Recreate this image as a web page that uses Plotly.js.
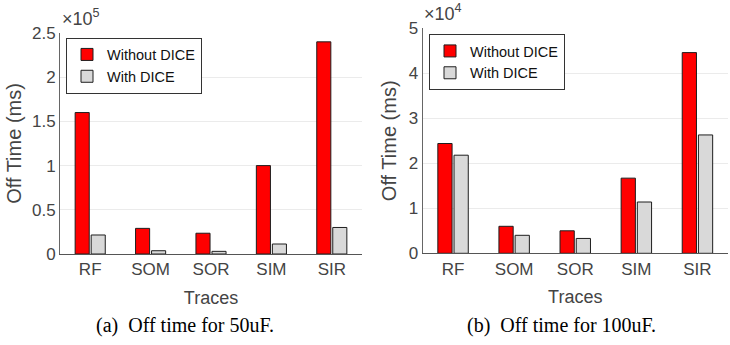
<!DOCTYPE html>
<html>
<head>
<meta charset="utf-8">
<script src="https://cdn.plot.ly/plotly-3.0.1.min.js"></script>
<style>html,body{margin:0;padding:0;background:#fff;}#chart{width:730px;height:345px;}</style>
</head>
<body>
<div id="chart"></div>
<script>
// Categories (traces)
const categories = ["RF", "SOM", "SOR", "SIM", "SIR"];
// (a) Off time for 50uF, in ms
const without50 = [160000, 29000, 23500, 100000, 240000];
const with50 = [21500, 3700, 3000, 11300, 30000];
// (b) Off time for 100uF, in ms
const without100 = [24400, 6000, 5000, 16700, 44600];
const with100 = [21800, 4000, 3300, 11400, 26300];
// Tick labels
const yTicks50 = [0, 50000, 100000, 150000, 200000, 250000];
const yTickText50 = ["0", "0.5", "1", "1.5", "2", "2.5"];
const yTicks100 = [0, 10000, 20000, 30000, 40000, 50000];
const yTickText100 = ["0", "1", "2", "3", "4", "5"];
const seriesNames = ["Without DICE", "With DICE"];

const RED = "#ff0000", GRAY = "#d9d9d9", EDGE = "#1e1e1e";
const SANS = "Liberation Sans, Arial, sans-serif";
const tickFont = {family: SANS, size: 17, color: "#444"};
const titleFont = {family: SANS, size: 20, color: "#444"};
const xtitleFont = {family: SANS, size: 18, color: "#444"};

function bar(y, name, color, xa, ya, lg) {
  return {type: "bar", x: categories, y: y, name: name, xaxis: xa, yaxis: ya, legend: lg,
    marker: {color: color, line: {color: EDGE, width: 1}}, hoverinfo: "x+y"};
}

const data = [
  bar(without50, seriesNames[0], RED, "x", "y", "legend"),
  bar(with50, seriesNames[1], GRAY, "x", "y", "legend"),
  bar(without100, seriesNames[0], RED, "x2", "y2", "legend2"),
  bar(with100, seriesNames[1], GRAY, "x2", "y2", "legend2")
];

const xBase = {type: "category", showgrid: false, showline: true, linecolor: "#555", linewidth: 1,
  ticks: "", tickfont: tickFont, range: [-0.5, 4.5], zeroline: false, fixedrange: true};
const yBase = {showgrid: true, gridcolor: "#ebebeb", gridwidth: 1, showline: true, linecolor: "#666",
  linewidth: 1, ticks: "", tickfont: tickFont, zeroline: false, fixedrange: true};

const legBase = {bgcolor: "#fff", bordercolor: "#333", borderwidth: 1,
  font: {family: SANS, size: 14.5, color: "#111"},
  xanchor: "left", yanchor: "top", tracegroupgap: 0, itemclick: false, itemdoubleclick: false};

const layout = {
  width: 730, height: 345, margin: {l: 0, r: 0, t: 0, b: 0},
  paper_bgcolor: "#fff", plot_bgcolor: "#fff",
  barmode: "group", bargap: 0.47, bargroupgap: 0.12,
  showlegend: true,
  xaxis: Object.assign({}, xBase, {domain: [60/730, 362/730], anchor: "y",
    title: {text: "Traces", font: xtitleFont, standoff: 12}}),
  yaxis: Object.assign({}, yBase, {domain: [(345-254)/345, (345-33)/345], anchor: "x",
    range: [0, 250000], tickvals: yTicks50, ticktext: yTickText50,
    title: {text: "Off Time (ms)", font: titleFont, standoff: 4}}),
  xaxis2: Object.assign({}, xBase, {domain: [422.5/730, 728/730], anchor: "y2",
    title: {text: "Traces", font: xtitleFont, standoff: 12}}),
  yaxis2: Object.assign({}, yBase, {domain: [(345-253.3)/345, (345-28.3)/345], anchor: "x2",
    range: [0, 50000], tickvals: yTicks100, ticktext: yTickText100,
    title: {text: "Off Time (ms)", font: titleFont, standoff: 6}}),
  legend: Object.assign({}, legBase, {x: 66/730, y: 1 - 37.5/345}),
  legend2: Object.assign({}, legBase, {x: 429/730, y: 1 - 34/345}),
  annotations: [
    {text: "×10<sup>5</sup>", xref: "paper", yref: "paper", x: 60/730, y: 1 - 31/345,
     xanchor: "left", yanchor: "bottom", showarrow: false,
     font: {family: SANS, size: 18, color: "#444"}},
    {text: "×10<sup>4</sup>", xref: "paper", yref: "paper", x: 422/730, y: 1 - 26/345,
     xanchor: "left", yanchor: "bottom", showarrow: false,
     font: {family: SANS, size: 18, color: "#444"}},
    {text: "(a)  Off time for 50uF.", xref: "paper", yref: "paper", x: 185/730, y: 1 - 325/345,
     xanchor: "center", yanchor: "middle", showarrow: false,
     font: {family: "Liberation Serif, Times New Roman, serif", size: 20, color: "#000"}},
    {text: "(b)  Off time for 100uF.", xref: "paper", yref: "paper", x: 561/730, y: 1 - 325/345,
     xanchor: "center", yanchor: "middle", showarrow: false,
     font: {family: "Liberation Serif, Times New Roman, serif", size: 20, color: "#000"}}
  ]
};

Plotly.newPlot("chart", data, layout, {displayModeBar: false, responsive: false});
</script>
</body>
</html>
